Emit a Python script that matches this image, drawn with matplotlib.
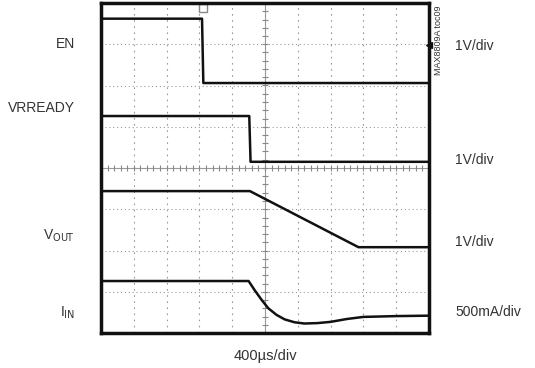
import numpy as np
import matplotlib
matplotlib.use("Agg")
import matplotlib.pyplot as plt

plt.rcParams['font.family'] = ['Liberation Sans Narrow', 'Liberation Sans', 'DejaVu Sans']

# traces, x in divisions (400us/div), y in divisions from bottom of screen
en_x = [0, 3.08, 3.12, 10]
en_y = [7.62, 7.62, 6.06, 6.06]

vrready_x = [0, 4.52, 4.56, 10]
vrready_y = [5.26, 5.26, 4.15, 4.15]

vout_x = [0, 4.54, 7.85, 10]
vout_y = [3.44, 3.44, 2.08, 2.08]

iin_x = [0, 4.5, 4.7, 4.9, 5.1, 5.35, 5.6, 5.9, 6.2, 6.6, 7.0, 7.5, 8.0, 9.0, 10]
iin_y = [1.26, 1.26, 1.02, 0.8, 0.6, 0.44, 0.33, 0.26, 0.23, 0.24, 0.27, 0.34, 0.39, 0.41, 0.42]

left_labels = ["EN", "VRREADY", "V$_{\\rm OUT}$", "I$_{\\rm IN}$"]
left_label_y = [7.0, 5.45, 2.35, 0.5]
right_labels = ["1V/div", "1V/div", "1V/div", "500mA/div"]
right_label_y = [6.95, 4.2, 2.2, 0.5]

fig = plt.figure(figsize=(5.35, 3.68), dpi=100)
ax = fig.add_axes([101/535, 35/368, 328/535, 330/368])
ax.set_xlim(0, 10)
ax.set_ylim(0, 8)
ax.set_xticks([])
ax.set_yticks([])
for s in ax.spines.values():
    s.set_linewidth(2.5)
    s.set_color('#111111')

# graticule
for gx in range(1, 10):
    if gx != 5:
        ax.axvline(gx, color='#999999', lw=0.8, ls=(0, (1.5, 4)))
for gy in range(1, 8):
    if gy != 4:
        ax.axhline(gy, color='#999999', lw=0.8, ls=(0, (1, 2.5)))
ax.axhline(4, color='#999999', lw=0.8)
ax.axvline(5, color='#999999', lw=0.8)
tk = np.arange(0.2, 10, 0.2)
ax.plot(tk, np.full_like(tk, 4), ls='none', marker='|', ms=5, color='#888888', mew=0.8)
tk2 = np.arange(0.2, 8, 0.2)
ax.plot(np.full_like(tk2, 5), tk2, ls='none', marker='_', ms=5, color='#888888', mew=0.8)

for xs, ys in [(en_x, en_y), (vrready_x, vrready_y), (vout_x, vout_y), (iin_x, iin_y)]:
    ax.plot(xs, ys, color='#111111', lw=1.8, solid_joinstyle='round')

# trigger marker
ax.plot([3.1], [7.88], marker='s', ms=6, mfc='none', mec='#888888', mew=1, clip_on=False)
ax.plot([10], [6.98], marker='<', ms=5, color='#111111', clip_on=False)

for t, y in zip(left_labels, left_label_y):
    ax.text(-0.8, y, t, ha='right', va='center', fontsize=10, color='#333333')
for t, y in zip(right_labels, right_label_y):
    ax.text(10.8, y, t, ha='left', va='center', fontsize=10, color='#333333')
ax.text(5.0, -0.55, "400\u00b5s/div", ha='center', va='center', fontsize=10.5, color='#333333')
ax.text(10.3, 7.95, "MAX8809A toc09", rotation=90, ha='center', va='top', fontsize=6.5, color='#333333')

fig.savefig("out.png", dpi=100)
